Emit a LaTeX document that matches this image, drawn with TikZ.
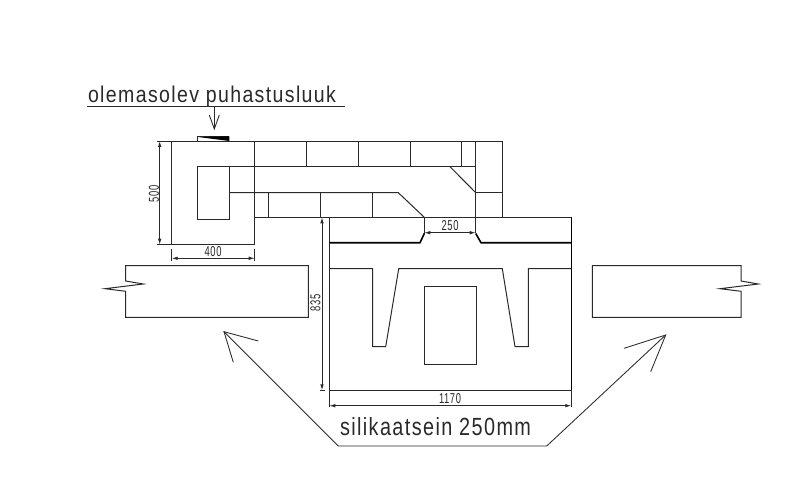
\documentclass[tikz,border=0pt]{standalone}
\usepackage{graphicx}
\usepackage{fontspec}
\setmainfont{Liberation Sans}
\newfontfamily\spaced[LetterSpace=7]{Liberation Sans}
\usetikzlibrary{arrows.meta}
\definecolor{ink}{HTML}{2A2A2A}
\tikzset{
  wall/.style={draw=ink,line width=1pt,line join=miter},
  heavy/.style={draw=black,line width=1.6pt},
  dimline/.style={draw=ink,line width=0.9pt,{Latex[length=6pt,width=3.6pt]}-{Latex[length=6pt,width=3.6pt]}},
  tick/.style={draw=ink,line width=0.8pt},
  thin leader/.style={draw=ink,line width=0.85pt},
  txt/.style={inner sep=0pt,outer sep=0pt,text=ink},
  dimtext/.style={txt,anchor=center}
}
\newcommand{\dimlabel}[1]{\resizebox{17pt}{10pt}{\spaced #1}}
\begin{document}
\begin{tikzpicture}[x=1pt,y=-1pt]
\useasboundingbox[fill=white] (0,0) rectangle (800,492);

% upper structure
\draw[wall] (171.7,141) rectangle (254.7,244.7);
\draw[wall] (254.7,141) -- (502.3,141) -- (502.3,217.3);
\draw[wall] (197.3,166.7) rectangle (229,219);
\draw[wall] (197.3,166.7) -- (475.7,166.7);
\draw[wall] (229,192.7) -- (398.3,192.7) -- (424.3,217.3);
\draw[wall] (450,166.7) -- (475.7,192.7);
\draw[wall] (475.7,141) -- (475.7,233);
\draw[wall] (475.7,192.7) -- (502.3,192.7);
\foreach \bx in {306.7,358,410,461.7} \draw[wall] (\bx,141) -- (\bx,166.7);
\foreach \bx in {268.7,320.3,372.7} \draw[wall] (\bx,192.7) -- (\bx,217.3);

% cleanout hatch
\draw[wall] (197.5,141) -- (197.5,136.5) -- (229.3,136.5);
\fill[black] (198,137) -- (229.3,136.3) -- (229.3,141) -- cycle;

% lower block
\draw[wall] (254.7,217.3) -- (571.3,217.3);
\draw[wall] (329.3,217.3) -- (329.3,407);
\draw[heavy,line width=1.3pt] (571.3,217.3) -- (571.3,390.3);
\draw[tick] (571.3,390.3) -- (571.3,407);
\draw[wall] (329.3,390.3) -- (571.3,390.3);
\draw[wall] (424.3,217.3) -- (424.3,233.5);
\draw[heavy] (329.3,242.7) -- (420,242.7) -- (424.3,233.5);
\draw[heavy] (475.7,233.5) -- (481,242.7) -- (571.3,242.7);
\draw[wall] (329.3,268.7) -- (372.7,268.7) -- (372.7,346.7) -- (385.7,346.7) -- (398.7,268.7)
  -- (502.3,268.7) -- (515,346.7) -- (528.3,346.7) -- (528.3,268.7) -- (571.3,268.7);
\draw[wall] (424.3,286.3) rectangle (476,364.3);

% side walls
\draw[wall] (125.7,281) -- (125.7,265.7) -- (308.3,265.7) -- (308.3,317.3) -- (125.7,317.3)
  -- (125.7,291.3) -- (105,288.7) -- (143.3,284) -- cycle;
\draw[wall] (741,281) -- (741,265.7) -- (592.3,265.7) -- (592.3,317.3) -- (741,317.3)
  -- (741,291.3) -- (720,288.7) -- (758.3,284) -- cycle;

% dimension end points
\coordinate (d500a) at (159.7,141);   \coordinate (d500b) at (159.7,244.7);
\coordinate (d400a) at (171.7,258.3); \coordinate (d400b) at (254.7,258.3);
\coordinate (d250a) at (424.3,232.7); \coordinate (d250b) at (475.7,232.7);
\coordinate (d835a) at (322,217.3);   \coordinate (d835b) at (322,390.3);
\coordinate (d1170a) at (329.3,405.7);\coordinate (d1170b) at (571.3,405.7);
\draw[dimline] (d500a) -- (d500b);
\draw[dimline] (d400a) -- (d400b);
\draw[dimline] (d250a) -- (d250b);
\draw[dimline] (d835a) -- (d835b);
\draw[dimline] (d1170a) -- (d1170b);
\draw[tick] (157,141) -- (171.7,141);
\draw[tick] (157,244.7) -- (171.7,244.7);
\draw[tick] (171.7,249) -- (171.7,260.7);
\draw[tick] (254.7,249) -- (254.7,260.7);
\draw[tick] (319.5,390.3) -- (324.5,390.3);

\node[dimtext,rotate=90] (t500) at (154,194) {\dimlabel{500}};
\node[dimtext] (t400) at (213,251.5) {\dimlabel{400}};
\node[dimtext] (t250) at (450,226) {\dimlabel{250}};
\node[dimtext,rotate=90] (t835) at (315.5,303) {\dimlabel{835}};
\node[dimtext] (t1170) at (450,399) {\resizebox{22pt}{10pt}{\spaced 1170}};

% top label
\node[txt,anchor=base west] (lbl) at (88,102.3) {\resizebox{248pt}{16.5pt}{\spaced olemasolev puhastusluuk}};
\coordinate (ulA) at (87,106.7); \coordinate (ulB) at (345,106.7);
\coordinate (lead) at (214.3,106.7); \coordinate (leadtip) at (214.3,129);
\draw[thin leader] (ulA) -- (ulB);
\draw[thin leader] (lead) -- (leadtip);
\draw[thin leader] (209.3,115) -- (leadtip) -- (219.3,115);

% bottom label and arrows
\node[txt,anchor=base west] (lbl2) at (340,435.7) {\resizebox{191pt}{18pt}{\spaced silikaatsein 250mm}};
\coordinate (tipL) at (224,331.7); \coordinate (tipR) at (665.7,335);
\coordinate (kneeL) at (338.3,446); \coordinate (kneeR) at (546.7,446);
\draw[thin leader,line join=miter] (tipL) -- (kneeL) -- (kneeR) -- (tipR);
\draw[thin leader] (258.3,341) -- (tipL) -- (233.3,362.3);
\draw[thin leader] (624,348.3) -- (tipR) -- (650.7,371.7);
\end{tikzpicture}
\end{document}
